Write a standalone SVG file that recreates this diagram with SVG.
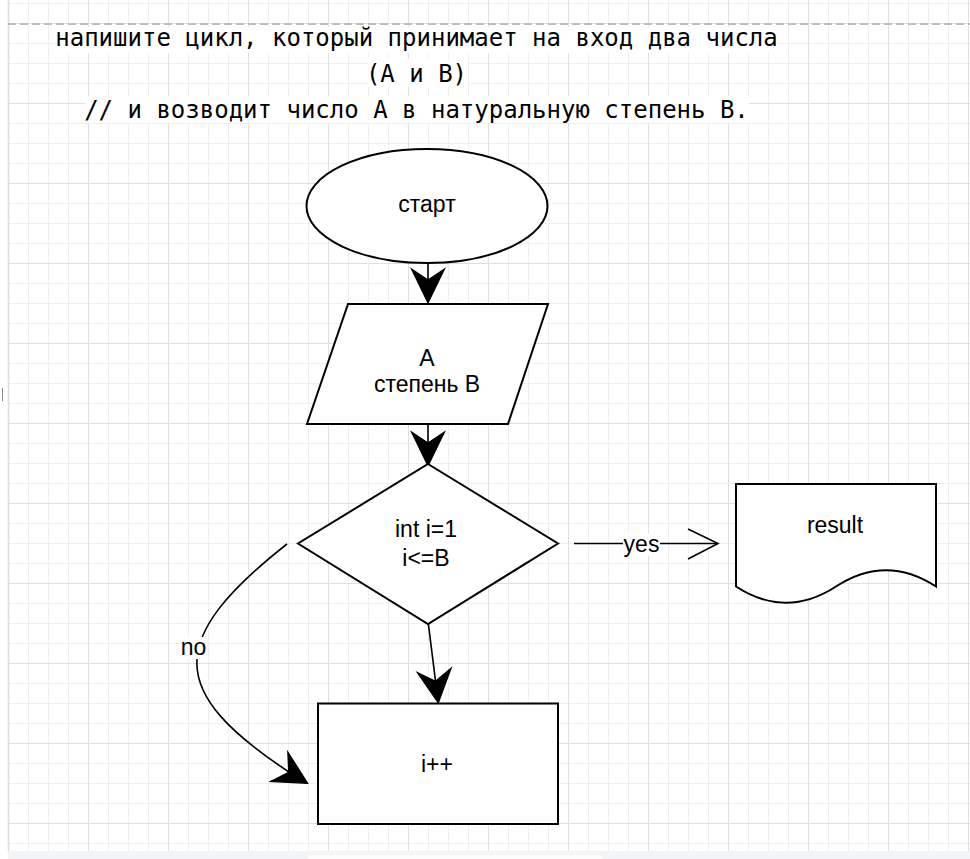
<svg xmlns="http://www.w3.org/2000/svg" width="970" height="859" viewBox="0 0 970 859">
<defs>
  <pattern id="grid" x="8" y="23" width="80" height="80" patternUnits="userSpaceOnUse">
    <path d="M20.5 0V80M40.5 0V80M60.5 0V80M0 20.5H80M0 40.5H80M0 60.5H80" stroke="#efefef" stroke-width="1" fill="none"/>
    <path d="M0.5 0V80M0 0.5H80" stroke="#dfdfdf" stroke-width="1" fill="none"/>
  </pattern>
  <style>
    .shape { fill: #ffffff; stroke: #000000; stroke-width: 2; }
    .edge { fill: none; stroke: #000000; stroke-width: 1.6; }
    .head { fill: #000000; stroke: #000000; stroke-width: 1.2; stroke-linejoin: miter; }
    .lbl { font-family: "Liberation Sans", Helvetica, Arial, sans-serif; font-size: 23px; fill: #000000; text-anchor: middle; }
    .title { font-family: "DejaVu Sans Mono", Menlo, "Liberation Mono", monospace; font-size: 24px; fill: #000000; text-anchor: middle; }
  </style>
</defs>

<!-- canvas -->
<rect x="0" y="0" width="970" height="859" fill="#ffffff"/>
<rect x="8" y="0" width="962" height="851" fill="url(#grid)"/>
<line x1="8.5" y1="0" x2="8.5" y2="851" stroke="#dcdcdc" stroke-width="1.5"/>
<line x1="8" y1="24" x2="970" y2="24" stroke="#bdbdbd" stroke-width="2" stroke-dasharray="8 4"/>
<rect x="8" y="851" width="962" height="8" fill="#f3f4f6"/>
<rect x="308" y="855" width="295" height="6" rx="3" fill="#fcfcfc"/>
<line x1="2.5" y1="388" x2="2.5" y2="401" stroke="#8a8a8a" stroke-width="1"/>

<!-- title -->
<g id="title">
  <rect x="56" y="27" width="722" height="26" fill="#ffffff"/>
  <rect x="367" y="59" width="101" height="28" fill="#ffffff"/>
  <rect x="85" y="96" width="664" height="27" fill="#ffffff"/>
  <text class="title" x="416.5" y="46">напишите цикл, который принимает на вход два числа</text>
  <text class="title" x="416.5" y="82">(A и B)</text>
  <text class="title" x="416.5" y="118">// и возводит число A в натуральную степень B.</text>
</g>

<!-- connectors -->
<g id="connectors">
  <line class="edge" x1="428" y1="263" x2="428" y2="281"/>
  <path class="head" d="M428 303 L411.5 269 L428 280 L444.5 269 Z"/>

  <line class="edge" x1="428" y1="424" x2="428" y2="443"/>
  <path class="head" d="M428 466 L411.5 432 L428 443 L444.5 432 Z"/>

  <line class="edge" x1="428.3" y1="623.5" x2="435.5" y2="681"/>
  <path class="head" d="M438.3 703 L417.3 672.4 L435.5 681.2 L451.1 668.2 Z"/>

  <path class="edge" d="M287 544 C165 640 168 692 289 772"/>
  <path class="head" d="M307.7 783.3 L270.6 781.4 L288.7 772.2 L287.8 752 Z"/>

  <line class="edge" x1="574" y1="543.5" x2="718" y2="543.5"/>
  <path class="edge" d="M688 529 L718 543.5 L688 559"/>

  <g id="label-no">
    <rect x="181" y="637" width="25" height="22" fill="#ffffff"/>
    <text class="lbl" x="193.5" y="655">no</text>
  </g>
  <g id="label-yes">
    <rect x="623" y="534" width="37" height="22" fill="#ffffff"/>
    <text class="lbl" x="641.5" y="551.5">yes</text>
  </g>
</g>

<!-- nodes -->
<g id="start">
  <ellipse class="shape" cx="427" cy="206" rx="120.5" ry="57"/>
  <text class="lbl" x="427" y="211.5">старт</text>
</g>

<g id="input">
  <path class="shape" d="M348 304 L548 304 L508 424 L307 424 Z"/>
  <text class="lbl" x="427" y="365.5">A</text>
  <text class="lbl" x="427" y="392.3">степень B</text>
</g>

<g id="condition">
  <path class="shape" d="M428 464 L558 543.5 L428 624 L298 543.5 Z"/>
  <text class="lbl" x="426" y="537.3">int i=1</text>
  <text class="lbl" x="426" y="566">i&lt;=B</text>
</g>

<g id="result">
  <path class="shape" d="M736 484 L936 484 L936 586.5 Q886 553.9 836 586.5 Q786 619 736 586.5 Z"/>
  <text class="lbl" x="835" y="533.3">result</text>
</g>

<g id="increment">
  <rect class="shape" x="318" y="703.5" width="240" height="120.5"/>
  <text class="lbl" x="437" y="771.7">i++</text>
</g>
</svg>
